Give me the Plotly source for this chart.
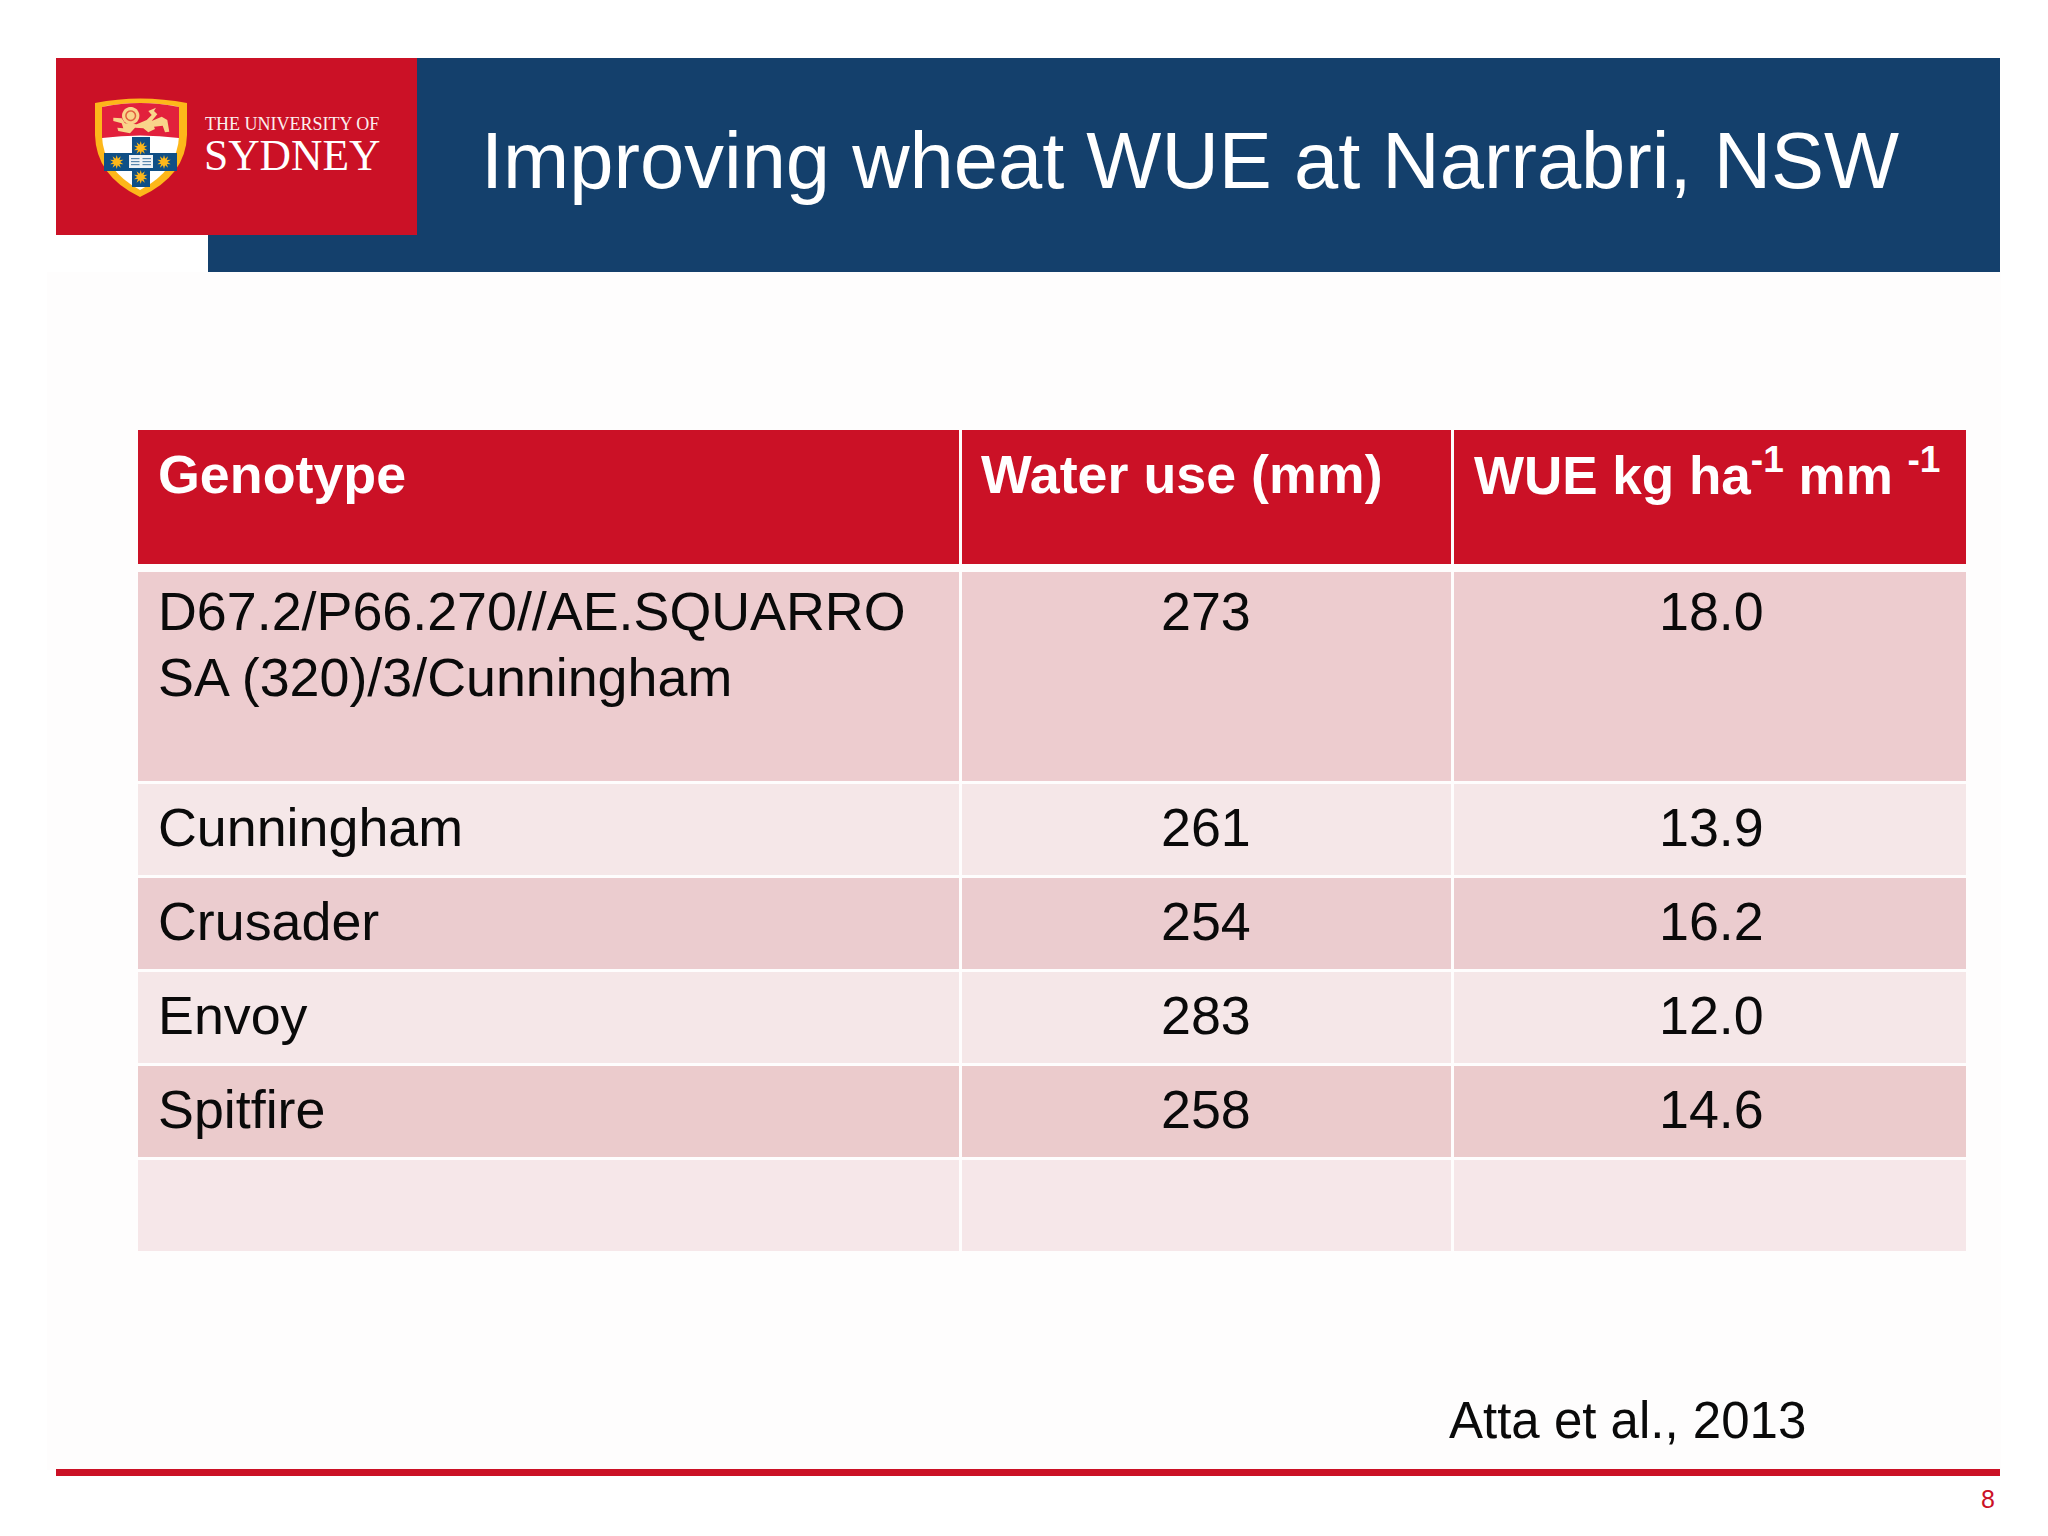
import math
import plotly.graph_objects as go

# ---- data ----
TITLE = "Improving wheat WUE at Narrabri, NSW"
HEADERS = ["Genotype", "Water use (mm)", "WUE kg ha<sup>-1</sup> mm <sup>-1</sup>"]
GENOTYPES = ["D67.2/P66.270//AE.SQUARRO<br>SA (320)/3/Cunningham", "Cunningham", "Crusader", "Envoy", "Spitfire", ""]
WATER_USE = ["273", "261", "254", "283", "258", ""]
WUE = ["18.0", "13.9", "16.2", "12.0", "14.6", ""]
CITATION = "Atta et al., 2013"
PAGE = "8"

# ---- layout of the slide (pixels) ----
COLS = [(138, 959), (962, 1451), (1454, 1966)]
HEAD_Y = (430, 564)
ROWS_Y = [(572, 781), (784, 875), (878, 969), (972, 1063), (1066, 1157), (1160, 1251)]
ROW_FILL = ["#EDCCCF", "#F5E7E8", "#EBCCCF", "#F5E7E8", "#EBCBCC", "#F6E7E9"]
TEXT_Y = [None, 827, 921, 1015, 1109, None]
RED, NAVY = "#CB1126", "#14406C"
INK = "#0A0A0A"
FONT = "Liberation Sans"
BODY = 53.8

shapes, notes = [], []

def rect(x0, y0, x1, y1, fill):
    shapes.append(dict(type="rect", xref="x", yref="y", x0=x0, y0=y0, x1=x1, y1=y1,
                       fillcolor=fill, line_width=0, layer="below"))

def path(d, fill):
    shapes.append(dict(type="path", xref="x", yref="y", path=d, fillcolor=fill, line_width=0, layer="below"))

def poly(pts, fill):
    path("M" + " L".join(f"{80 + x / 3:.1f},{85 + y / 3:.1f}" for x, y in pts) + " Z", fill)

def text(x, y, s, size, color=INK, anchor="left", bold=False, family=FONT):
    notes.append(dict(x=x, y=y, xref="x", yref="y", text=f"<b>{s}</b>" if bold else s, showarrow=False,
                      xanchor=anchor, yanchor="middle", align=anchor,
                      font=dict(family=family, size=size, color=color)))

def star(cx, cy, r1, r2, n=10):
    pts = []
    for i in range(2 * n):
        r = r1 if i % 2 == 0 else r2
        a = math.pi * i / n
        pts.append(f"{cx + r * math.sin(a):.1f},{cy - r * math.cos(a):.1f}")
    return "M" + " L".join(pts) + " Z"

def disc(cx, cy, r, n=24):
    return star(cx, cy, r, r, n)

# faint off-white slide area
rect(47, 272, 2001, 1470, "#FEFDFD")

# banner
rect(208, 58, 2000, 272, NAVY)
rect(56, 58, 417, 235, RED)
text(479, 160, TITLE, 79.5, "#FFFFFF")

# crest
path("M95,103 Q140,94 187,103 L187,135 Q186,176 140,197 Q96,176 95,135 Z", "#FDB71A")
path("M102,107 Q140,99 179,107 L179,136 Q178,170 140,190 Q103,170 102,136 Z", "#FFFFFF")
path("M102,107 Q140,99 179,107 L179,138 Q140,133 102,138 Z", "#E2203C")
rect(132, 137, 150, 187, "#0F4F86")
rect(104, 153, 177, 171, "#0F4F86")
for cx, cy in [(140.7, 148), (116.7, 162), (164, 162), (140.7, 177)]:
    path(star(cx, cy, 7, 3.5), "#FDB71A")
rect(129, 155, 153, 168, "#F0F3F6")
for ly in (158, 161, 164):
    rect(131, ly, 139.5, ly + 1.2, "#5B87AD")
    rect(142.5, ly, 151, ly + 1.2, "#5B87AD")
# lion passant
poly([(100, 98), (125, 100), (135, 115), (170, 118), (200, 105), (215, 90), (205, 78), (228, 68),
      (222, 78), (232, 88), (215, 108), (245, 95), (262, 105), (268, 140), (255, 142), (248, 122),
      (222, 125), (225, 132), (205, 142), (190, 130), (165, 128), (150, 145), (115, 138), (112, 128),
      (130, 130), (125, 115), (100, 108)], "#F9D48A")
path(disc(130.7, 115.7, 8.7), "#F9D48A")
path(disc(130.7, 115.7, 5.5), "#E2603F")
path(disc(130.7, 115.7, 4), "#F9D48A")
text(203, 124, "THE UNIVERSITY OF", 18, "#FBEFEF", family="Liberation Serif")
text(202, 155, "SYDNEY", 43.5, "#FFFFFF", family="Liberation Serif")

# table
for (x0, x1), head in zip(COLS, HEADERS):
    rect(x0, HEAD_Y[0], x1, HEAD_Y[1], RED)
for (y0, y1), fill in zip(ROWS_Y, ROW_FILL):
    for x0, x1 in COLS:
        rect(x0, y0, x1, y1, fill)

text(156, 474, HEADERS[0], 53.8, "#FFFFFF", bold=True)
text(979, 474, HEADERS[1], 53.8, "#FFFFFF", bold=True)
text(1472, 471, HEADERS[2], 53, "#FFFFFF", bold=True)

for i, (g, w, e) in enumerate(zip(GENOTYPES, WATER_USE, WUE)):
    if not g:
        continue
    if "<br>" in g:
        lines = g.split("<br>")
        ys = [611, 677]
    else:
        lines = [g]
        ys = [TEXT_Y[i]]
    for line, y in zip(lines, ys):
        text(156, y, line, BODY)
    text(1206, ys[0], w, BODY, anchor="center")
    text(1711, ys[0], e, BODY, anchor="center")

# footer
text(1447, 1420, CITATION, 51)
rect(56, 1469, 2000, 1476, RED)
text(1997, 1499, PAGE, 25, RED, anchor="right")

fig = go.Figure()
fig.update_layout(
    width=2048, height=1536, margin=dict(l=0, r=0, t=0, b=0),
    paper_bgcolor="#FFFFFF", plot_bgcolor="#FFFFFF", showlegend=False,
    xaxis=dict(range=[0, 2048], visible=False, fixedrange=True),
    yaxis=dict(range=[1536, 0], visible=False, fixedrange=True),
    shapes=shapes, annotations=notes,
)
fig.write_html("out.html", config=dict(displayModeBar=False),
               post_script="document.body.style.margin='0';")
